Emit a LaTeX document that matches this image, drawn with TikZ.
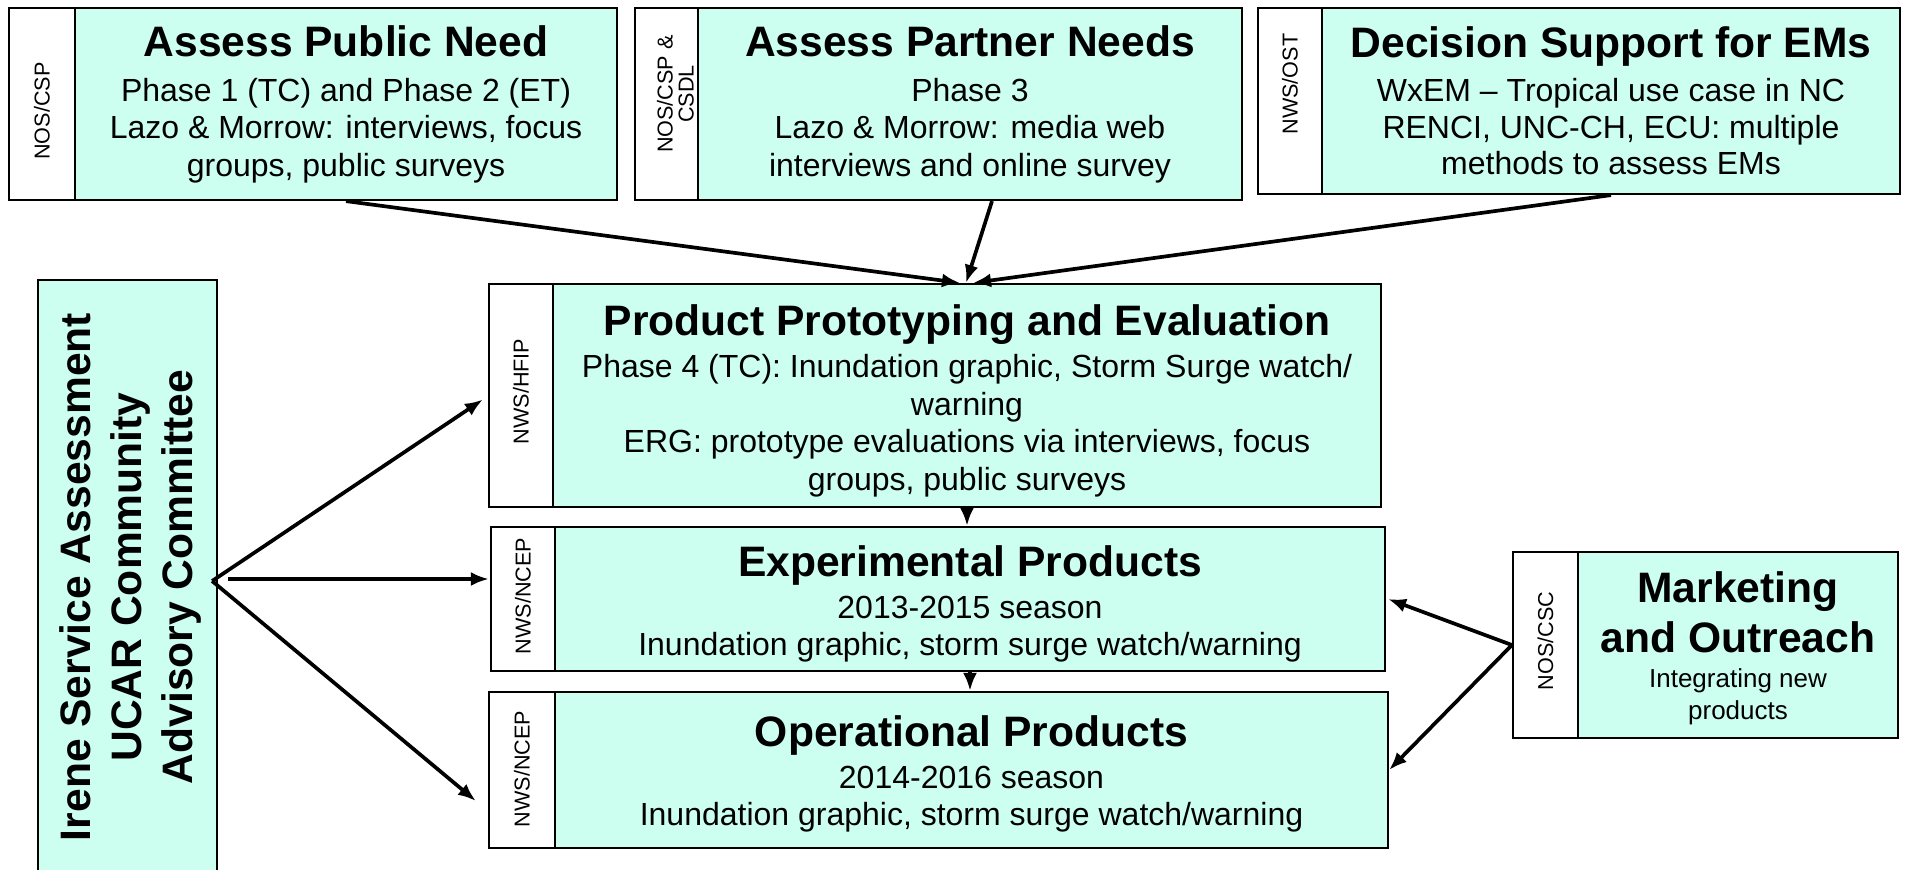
\documentclass[tikz,border=0pt]{standalone}
\usepackage{fontspec}
\setmainfont{Liberation Sans}
\usetikzlibrary{arrows.meta}
\definecolor{boxfill}{RGB}{204,255,240}
\newcommand\nodefont[2]{\fontsize{#1pt}{#2pt}\selectfont\lineskiplimit=-100pt\relax}
\newcommand\boxtitle{\edef\tmpbs{\the\baselineskip}\fontsize{21.3pt}{\tmpbs}\selectfont\bfseries}
\newcommand\stripfont{\fontsize{10.8pt}{10.5pt}\selectfont\lineskiplimit=-100pt\relax}
\begin{document}
\begin{tikzpicture}[x=0.5pt,y=-0.5pt,
  mainbox/.style={draw=black, line width=1.1pt, fill=boxfill, inner sep=0pt},
  boxtext/.style={align=center, inner sep=0pt},
  stripbox/.style={draw=black, line width=1.1pt, fill=white, inner sep=0pt},
  striplabel/.style={rotate=90, font=\stripfont, align=center, inner sep=0pt},
  arr/.style={line width=1.85pt, -{Latex[length=9pt,width=7pt]}}]
\useasboundingbox (0,0) rectangle (1905,869);

% top row
\node[stripbox, minimum width=33pt, minimum height=96pt] (pubS) at (42,104) {};
\node[mainbox, minimum width=271pt, minimum height=96pt] (pub) at (346,104) {};
\node[boxtext, font=\nodefont{16}{18.7}] (pubT) at (pub.center)
  {{\boxtitle Assess Public Need}\\[4pt]Phase 1 (TC) and Phase 2 (ET)\\Lazo \& Morrow: interviews, focus\\groups, public surveys};
\node[striplabel] (pubL) at ([yshift=-3.5pt]pubS.center) {NOS/CSP};

\node[stripbox, minimum width=31.5pt, minimum height=96pt] (partS) at (666.5,104) {};
\node[mainbox, minimum width=272pt, minimum height=96pt] (part) at (970,104) {};
\node[boxtext, font=\nodefont{16}{18.7}] (partT) at (part.center)
  {{\boxtitle Assess Partner Needs}\\[4pt]Phase 3\\Lazo \& Morrow: media web\\interviews and online survey};
\node[striplabel] (partL) at ([xshift=4.5pt,yshift=5pt]partS.center) {NOS/CSP \&\\CSDL};

\node[stripbox, minimum width=32pt, minimum height=93pt] (dssS) at (1290,101) {};
\node[mainbox, minimum width=289pt, minimum height=93pt] (dss) at (1611,101) {};
\node[boxtext, font=\nodefont{16}{18.3}] (dssT) at (dss.center)
  {{\boxtitle Decision Support for EMs}\\[3.5pt]WxEM -- Tropical use case in NC\\RENCI, UNC-CH, ECU: multiple\\methods to assess EMs};
\node[striplabel] (dssL) at ([yshift=8.5pt]dssS.center) {NWS/OST};

% left committee box
\node[mainbox, minimum width=89.5pt, minimum height=310pt] (irene) at (127.5,590) {};
\node[rotate=90, boxtext, font={\fontsize{21.3pt}{25.5pt}\selectfont\bfseries}] (ireneT) at (130,577)
  {Irene Service Assessment\\UCAR Community\\Advisory Committee};

% centre column
\node[stripbox, minimum width=32pt, minimum height=111.5pt] (protoS) at (521,395.5) {};
\node[mainbox, minimum width=414pt, minimum height=111.5pt] (proto) at (967,395.5) {};
\node[boxtext, font=\nodefont{16}{18.8}] (protoT) at ([yshift=-2.75pt]proto.center)
  {{\boxtitle Product Prototyping and Evaluation}\\[2.2pt]Phase 4 (TC): Inundation graphic, Storm Surge watch/\\warning\\ERG: prototype evaluations via interviews, focus\\groups, public surveys};
\node[striplabel] (protoL) at ([yshift=2pt]protoS.center) {NWS/HFIP};

\node[stripbox, minimum width=32pt, minimum height=72pt] (expS) at (523,599) {};
\node[mainbox, minimum width=415pt, minimum height=72pt] (exp) at (970,599) {};
\node[boxtext, font=\nodefont{16}{18.5}] (expT) at ([yshift=-2.5pt]exp.center)
  {{\boxtitle Experimental Products}\\[2.8pt]2013-2015 season\\Inundation graphic, storm surge watch/warning};
\node[striplabel] (expL) at ([yshift=1.5pt]expS.center) {NWS/NCEP};

\node[stripbox, minimum width=33pt, minimum height=78pt] (opS) at (522,770) {};
\node[mainbox, minimum width=416.5pt, minimum height=78pt] (op) at (971.5,770) {};
\node[boxtext, font=\nodefont{16}{18.5}] (opT) at ([yshift=-2pt]op.center)
  {{\boxtitle Operational Products}\\[2.8pt]2014-2016 season\\Inundation graphic, storm surge watch/warning};
\node[striplabel] (opL) at ([yshift=0.5pt]opS.center) {NWS/NCEP};

% marketing box
\node[stripbox, minimum width=32.5pt, minimum height=93pt] (mkS) at (1545.5,645) {};
\node[mainbox, minimum width=160pt, minimum height=93pt] (mk) at (1738,645) {};
\node[boxtext, font=\nodefont{13}{16}] (mkT) at ([yshift=-1.75pt]mk.center)
  {{\boxtitle Marketing}\\[9pt]{\boxtitle and Outreach}\\[1.5pt]Integrating new\\products};
\node[striplabel] (mkL) at ([yshift=2pt]mkS.center) {NOS/CSC};

% connectors
\draw[arr] (pub.south) -- ([xshift=-3.5pt]proto.north);
\draw[arr] ([xshift=11pt]part.south) -- ([xshift=-0.5pt]proto.north);
\draw[arr] (dss.south) -- ([xshift=3pt]proto.north);
\draw[arr] (proto.south) -- (proto.south |- exp.north);
\draw[arr] (exp.south) -- (exp.south |- op.north);

\coordinate (ir) at ([xshift=-3pt,yshift=4.5pt]irene.east);
\coordinate (ir2) at ([xshift=5pt,yshift=5.5pt]irene.east);
\draw[arr] (ir) -- ([xshift=-2.5pt,yshift=-2pt]protoS.west);
\draw[arr] (ir2) -- ([xshift=-0.5pt,yshift=10pt]expS.west);
\draw[arr] (ir) -- ([xshift=-6pt,yshift=-15.5pt]opS.west);

\draw[arr] (mkS.west) -- ([xshift=1pt]exp.east);
\draw[arr] (mkS.west) -- (op.east);
\end{tikzpicture}
\end{document}
